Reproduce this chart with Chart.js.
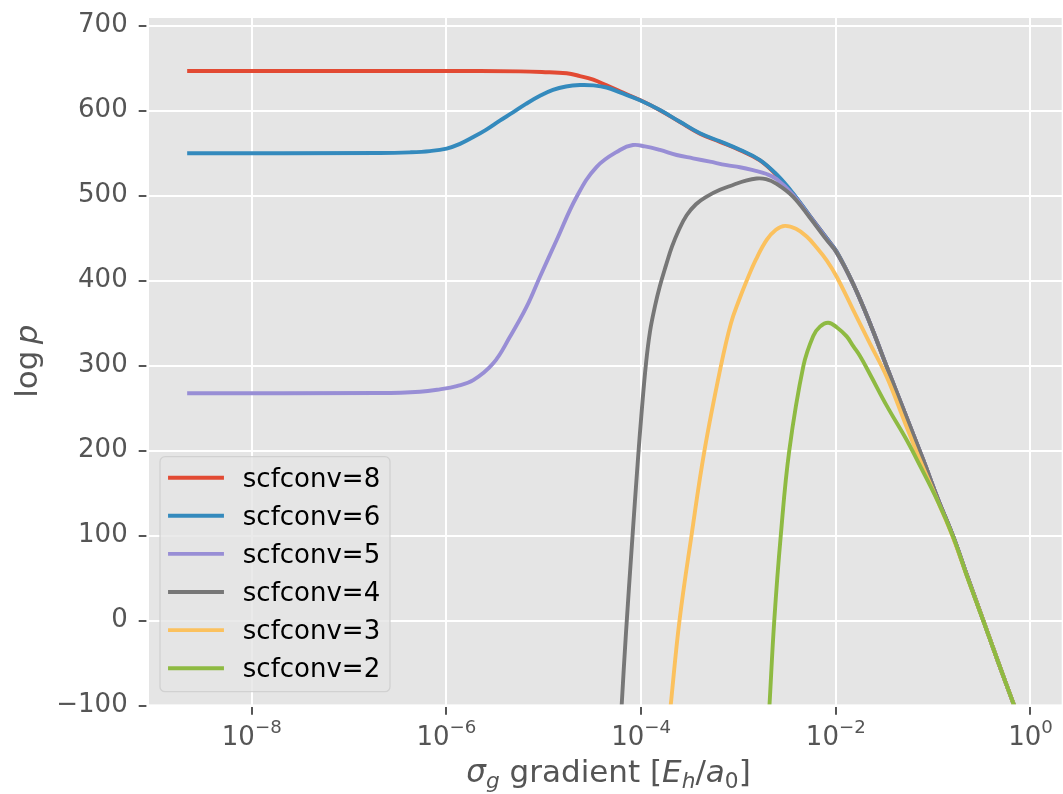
<!DOCTYPE html>
<html>
<head>
<meta charset="utf-8">
<script src="https://cdn.jsdelivr.net/npm/chart.js@4.4.1/dist/chart.umd.min.js"></script>
<style>
  html, body { margin: 0; padding: 0; background: #ffffff; }
  canvas { display: block; }
</style>
</head>
<body>
<canvas id="chart" width="1063" height="794"></canvas>
<script>
// sigma_g gradient (E_h/a_0) and log p for each scfconv setting
const grad8 = [2.17e-9, 2.211e-6, 5.69e-6, 9.54e-6, 1.718e-5, 2.353e-5, 3.224e-5, 4.426e-5, 6.062e-5, 9.73e-5, 1.561e-4, 2.506e-4, 4.022e-4, 6.454e-4, 1.036e-3, 1.663e-3, 2.468e-3, 3.63e-3, 5.427e-3, 8.055e-3, 1.021e-2, 1.511e-2, 2.244e-2, 3.331e-2, 5.133e-2, 7.915e-2, 0.1121, 0.161, 0.2279, 0.3272, 0.4634, 0.6653, 0.7092];
const logp8 = [646.7, 646.7, 646.3, 645.5, 644, 640.8, 636.5, 629.8, 622.8, 612.5, 600.6, 586.7, 573, 563.3, 553.5, 541.5, 524, 502, 476, 450, 434, 396, 350, 299, 244, 189, 143, 98.8, 50, 0.4, -48, -97, -105.5];

const grad6 = [2.17e-9, 2.07e-7, 4.22e-7, 6.77e-7, 1.005e-6, 1.377e-6, 1.886e-6, 2.547e-6, 3.504e-6, 4.825e-6, 6.56e-6, 9.14e-6, 1.242e-5, 1.69e-5, 2.353e-5, 3.224e-5, 4.426e-5, 6.062e-5, 9.73e-5, 1.561e-4, 2.506e-4, 4.022e-4, 6.454e-4, 1.036e-3, 1.663e-3, 2.468e-3, 3.63e-3, 5.427e-3, 8.055e-3, 1.021e-2, 1.511e-2, 2.244e-2, 3.331e-2, 5.133e-2, 7.915e-2, 0.1121, 0.161, 0.2279, 0.3272, 0.4634, 0.6653, 0.7092];
const logp6 = [550, 550.2, 551, 552.5, 555.5, 561, 569, 577.5, 588, 598, 608, 617.5, 624.5, 628.5, 630.2, 629.8, 627.3, 621.5, 612.3, 600.8, 587, 573.5, 564, 554, 542, 525, 503, 476, 450, 434, 396, 350, 299, 244, 189, 143, 98.8, 50, 0.4, -48, -97, -105.5];

const grad5 = [2.17e-9, 2.07e-7, 5.35e-7, 8.57e-7, 1.274e-6, 1.886e-6, 3.027e-6, 4.493e-6, 6.67e-6, 9.14e-6, 1.356e-5, 2.177e-5, 3.494e-5, 6.062e-5, 8.243e-5, 1.095e-4, 1.561e-4, 2.317e-4, 3.408e-4, 5.095e-4, 7.565e-4, 1.036e-3, 1.409e-3, 1.949e-3, 2.468e-3, 3.63e-3, 5.427e-3, 8.055e-3, 1.021e-2, 1.511e-2, 2.244e-2, 3.331e-2, 5.133e-2, 7.915e-2, 0.1121, 0.161, 0.2279, 0.3272, 0.4634, 0.6653, 0.7092];
const logp5 = [267.6, 267.8, 269.3, 272.2, 276, 283, 302.8, 334, 369.4, 404.7, 447.9, 498.8, 534, 553.8, 559.6, 558, 553.8, 547.9, 544, 540, 536, 533.5, 530, 525.5, 519.5, 501, 475, 449, 433, 396, 350, 299, 244, 189, 143, 98.8, 50, 0.4, -48, -97, -105.5];

const grad4 = [6.062e-5, 6.31e-5, 6.985e-5, 8.05e-5, 9.28e-5, 1.020e-4, 1.121e-4, 1.233e-4, 1.388e-4, 1.561e-4, 1.800e-4, 2.074e-4, 2.447e-4, 2.936e-4, 3.660e-4, 4.712e-4, 6.454e-4, 8.78e-4, 1.166e-3, 1.538e-3, 1.917e-3, 2.468e-3, 3.63e-3, 5.427e-3, 8.055e-3, 1.021e-2, 1.511e-2, 2.244e-2, 3.331e-2, 5.133e-2, 7.915e-2, 0.1121, 0.161, 0.2279, 0.3272, 0.4634, 0.6653, 0.7092];
const logp4 = [-140, -100, -15, 90, 190, 250, 302, 340, 370, 394, 418, 440, 460, 477, 490, 499, 507, 512.6, 517.5, 520.3, 519.5, 514, 499, 474, 448, 433, 396, 350, 299, 244, 189, 143, 98.8, 50, 0.4, -48, -97, -105.5];

const grad3 = [1.932e-4, 2.011e-4, 2.477e-4, 3.290e-4, 4.474e-4, 6.610e-4, 8.375e-4, 1.012e-3, 1.214e-3, 1.513e-3, 1.949e-3, 2.427e-3, 3.003e-3, 3.897e-3, 5.019e-3, 6.254e-3, 8.055e-3, 1.021e-2, 1.511e-2, 2.244e-2, 3.331e-2, 5.133e-2, 7.32e-2, 0.1121, 0.161, 0.2279, 0.3272, 0.4634, 0.6653, 0.7092];
const logp3 = [-120, -100, 0, 100, 200, 300, 350, 377, 400, 425, 448, 460, 464.5, 461, 452, 440, 424, 404.7, 365.5, 326, 287, 233, 189, 140, 97, 49, 0.2, -48, -97, -105.5];

const grad2 = [2.033e-3, 2.082e-3, 2.332e-3, 2.720e-3, 3.325e-3, 4.652e-3, 5.866e-3, 6.876e-3, 8.365e-3, 1.028e-2, 1.293e-2, 1.511e-2, 1.771e-2, 2.244e-2, 3.331e-2, 5.346e-2, 6.77e-2, 0.1121, 0.161, 0.2279, 0.3272, 0.4634, 0.6653, 0.7092];
const logp2 = [-120, -100, 0, 100, 200, 300, 335, 346, 350.6, 345, 334.5, 323, 311.5, 290, 253, 212.6, 190, 140, 98, 49, 0, -48, -97, -105.5];

const seriesLabels = ['scfconv=8', 'scfconv=6', 'scfconv=5', 'scfconv=4', 'scfconv=3', 'scfconv=2'];
const seriesColors = ['#E24A33', '#348ABD', '#988ED5', '#777777', '#FBC15E', '#8EBA42'];

// axis ticks
const xTickValues = [1e-8, 1e-6, 1e-4, 1e-2, 1];
const xTickExponents = ['\u22128', '\u22126', '\u22124', '\u22122', '0'];
const yTickValues = [-100, 0, 100, 200, 300, 400, 500, 600, 700];
const yTickLabels = ['\u2212100', '0', '100', '200', '300', '400', '500', '600', '700'];

const FONT = '"DejaVu Sans", sans-serif';
const TICK_SIZE = 26;
const LABEL_SIZE = 31;
const INK = '#555555';
const LINE_W = 3.9;

function zip(xs, ys) {
  return xs.map((x, i) => ({ x: x, y: ys[i] }));
}

const seriesData = [zip(grad8, logp8), zip(grad6, logp6), zip(grad5, logp5), zip(grad4, logp4), zip(grad3, logp3), zip(grad2, logp2)];

// grey panel behind the grid, white frame over the curves
const panelPlugin = {
  id: 'panel',
  beforeDraw(chart) {
    const { ctx, chartArea: a } = chart;
    ctx.save();
    ctx.fillStyle = '#E5E5E5';
    ctx.fillRect(a.left, a.top, a.right - a.left, a.bottom - a.top);
    ctx.restore();
  },
  afterDatasetsDraw(chart) {
    const { ctx, chartArea: a } = chart;
    ctx.save();
    ctx.strokeStyle = '#ffffff';
    ctx.lineWidth = 2.6;
    ctx.strokeRect(a.left, a.top, a.right - a.left, a.bottom - a.top);
    ctx.restore();
  }
};

// text pieces: {text, size, italic, dy}
function setFont(ctx, r) {
  ctx.font = (r.italic ? 'italic ' : '') + r.size + 'px ' + FONT;
}
function drawRuns(ctx, runs, x, y) {
  let cx = x;
  runs.forEach(r => {
    setFont(ctx, r);
    ctx.fillText(r.text, cx, y + (r.dy || 0));
    cx += ctx.measureText(r.text).width;
  });
}
function runsWidth(ctx, runs) {
  let w = 0;
  runs.forEach(r => {
    setFont(ctx, r);
    w += ctx.measureText(r.text).width;
  });
  return w;
}

const textPlugin = {
  id: 'texts',
  afterDraw(chart) {
    const ctx = chart.ctx;
    const xs = chart.scales.x;
    const a = chart.chartArea;
    ctx.save();
    ctx.fillStyle = INK;
    ctx.textAlign = 'left';
    ctx.textBaseline = 'alphabetic';

    // x tick labels: 10 with a superscript exponent
    xTickValues.forEach((v, i) => {
      const px = xs.getPixelForValue(v);
      const runs = [
        { text: '10', size: TICK_SIZE },
        { text: xTickExponents[i], size: TICK_SIZE * 0.7, dy: -12 }
      ];
      const w = runsWidth(ctx, runs);
      drawRuns(ctx, runs, px - w / 2, 745);
    });

    // x axis title
    const sub = LABEL_SIZE * 0.7;
    const xTitle = [
      { text: '\u03C3', size: LABEL_SIZE, italic: true },
      { text: 'g', size: sub, italic: true, dy: 6 },
      { text: ' gradient [', size: LABEL_SIZE },
      { text: 'E', size: LABEL_SIZE, italic: true },
      { text: 'h', size: sub, italic: true, dy: 6 },
      { text: '/', size: LABEL_SIZE },
      { text: 'a', size: LABEL_SIZE, italic: true },
      { text: '0', size: sub, dy: 6 },
      { text: ']', size: LABEL_SIZE }
    ];
    const wx = runsWidth(ctx, xTitle);
    drawRuns(ctx, xTitle, 608.5 - wx / 2, 782);

    // y axis title
    const yTitle = [
      { text: 'log', size: LABEL_SIZE },
      { text: '\u2009', size: LABEL_SIZE },
      { text: 'p', size: LABEL_SIZE, italic: true }
    ];
    const wy = runsWidth(ctx, yTitle);
    ctx.translate(37.3, (a.top + a.bottom) / 2);
    ctx.rotate(-Math.PI / 2);
    drawRuns(ctx, yTitle, -wy / 2, 0);
    ctx.restore();

    // legend
    ctx.save();
    const bx = 160, by = 456.7, bw = 230, bh = 235, r = 5;
    ctx.beginPath();
    ctx.moveTo(bx + r, by);
    ctx.arcTo(bx + bw, by, bx + bw, by + bh, r);
    ctx.arcTo(bx + bw, by + bh, bx, by + bh, r);
    ctx.arcTo(bx, by + bh, bx, by, r);
    ctx.arcTo(bx, by, bx + bw, by, r);
    ctx.closePath();
    ctx.fillStyle = 'rgba(229,229,229,0.8)';
    ctx.fill();
    ctx.strokeStyle = 'rgba(204,204,204,0.8)';
    ctx.lineWidth = 1.3;
    ctx.stroke();
    chart.data.datasets.forEach((ds, i) => {
      const y = 477.7 + 38.1 * i;
      ctx.beginPath();
      ctx.moveTo(170, y);
      ctx.lineTo(222, y);
      ctx.strokeStyle = ds.borderColor;
      ctx.lineWidth = LINE_W;
      ctx.lineCap = 'square';
      ctx.stroke();
      ctx.fillStyle = '#000000';
      ctx.font = TICK_SIZE + 'px ' + FONT;
      ctx.textBaseline = 'alphabetic';
      ctx.fillText(ds.label, 242.8, y + 9);
    });
    ctx.restore();
  }
};

new Chart(document.getElementById('chart'), {
  type: 'line',
  data: {
    datasets: seriesLabels.map((label, i) => ({
      label: label,
      data: seriesData[i],
      borderColor: seriesColors[i],
      backgroundColor: seriesColors[i],
      borderWidth: LINE_W,
      pointRadius: 0,
      fill: false,
      tension: 0.4,
      clip: 0,
      order: seriesLabels.length - i
    }))
  },
  options: {
    responsive: false,
    devicePixelRatio: 1,
    animation: false,
    events: [],
    layout: { padding: { top: 16.7, left: 0, right: 0, bottom: 0 } },
    plugins: { legend: { display: false }, tooltip: { enabled: false } },
    scales: {
      x: {
        type: 'logarithmic',
        min: Math.pow(10, -9.069),
        max: Math.pow(10, 0.334),
        afterBuildTicks(scale) { scale.ticks = xTickValues.map(v => ({ value: v })); },
        afterFit(scale) {
          scale.height = 794 - 705.7;
          scale.paddingLeft = 0; scale.paddingRight = 0;
          scale.paddingTop = 0; scale.paddingBottom = 0;
        },
        ticks: { display: false },
        grid: { color: '#ffffff', lineWidth: 2, drawTicks: true, tickLength: 9, tickColor: INK, tickWidth: 2 },
        border: { display: false }
      },
      y: {
        type: 'linear',
        min: -100,
        max: 710.6,
        afterBuildTicks(scale) { scale.ticks = yTickValues.map(v => ({ value: v })); },
        afterFit(scale) {
          scale.width = 147.7;
          scale.paddingLeft = 0; scale.paddingRight = 0;
          scale.paddingTop = 0; scale.paddingBottom = 0;
        },
        ticks: {
          color: INK,
          font: { family: FONT, size: TICK_SIZE },
          padding: 11,
          callback: (v, i) => yTickLabels[i]
        },
        grid: { color: '#ffffff', lineWidth: 2, drawTicks: true, tickLength: 9, tickColor: INK, tickWidth: 2 },
        border: { display: false }
      }
    }
  },
  plugins: [panelPlugin, textPlugin]
});
</script>
</body>
</html>
